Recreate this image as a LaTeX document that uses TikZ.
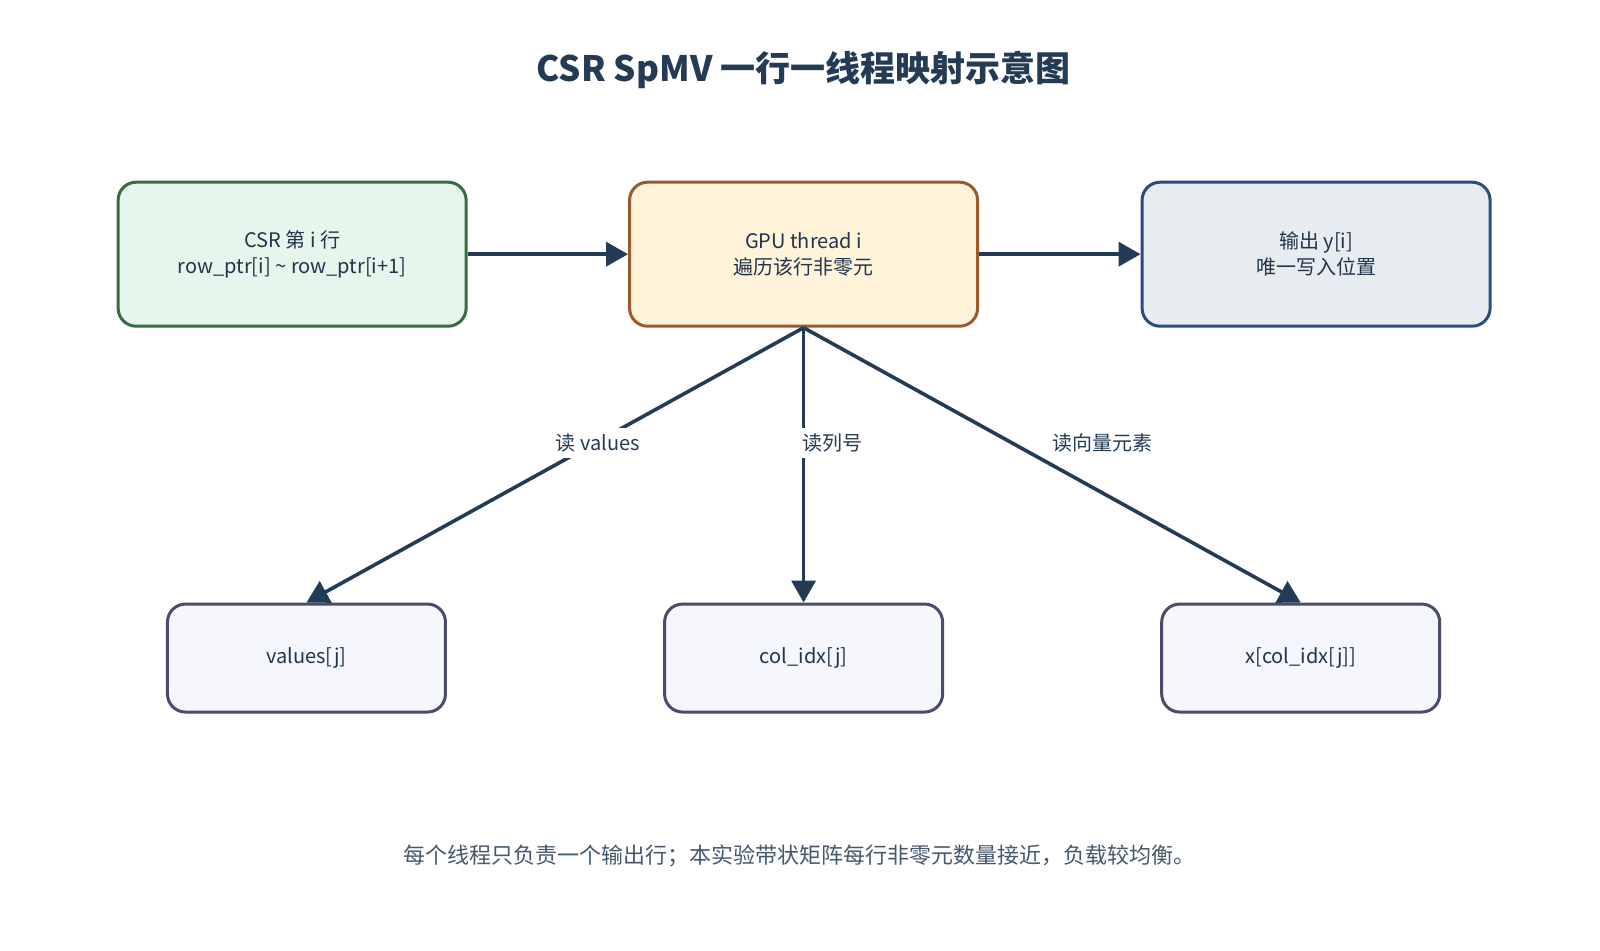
\documentclass[tikz,border=0pt]{standalone}
\usepackage{fontspec}
\setmainfont{Noto Sans CJK SC}
\usetikzlibrary{arrows.meta}
\definecolor{ink}{HTML}{243B55}
\definecolor{gb}{HTML}{3A6B42}\definecolor{gf}{HTML}{E7F6EC}
\definecolor{ob}{HTML}{9C5A2A}\definecolor{of}{HTML}{FFF3DA}
\definecolor{bb}{HTML}{2B4C7E}\definecolor{bf}{HTML}{E7ECF0}
\definecolor{kb}{HTML}{4A4C6A}\definecolor{kf}{HTML}{F5F7FD}
\begin{document}
\begin{tikzpicture}[x=0.5125pt,y=-0.5125pt,
 box/.style={draw,line width=1.5pt,rounded corners=9pt,align=center,font=\fontsize{10}{13}\selectfont,text=ink!90!black,inner sep=0pt},
 arr/.style={draw=ink,line width=1.8pt,-{Triangle[length=11pt,width=12pt]}},
 lab/.style={fill=white,inner sep=3pt,font=\fontsize{10}{12}\selectfont,text=ink}]
\useasboundingbox (0,0) rectangle (1561,927);
\fill[white] (0,0) rectangle (1561,927);
\node[font=\fontsize{17.5}{20}\selectfont\bfseries,text=ink] (title) at (784,68) {CSR SpMV 一行一线程映射示意图};
\node[box,draw=gb,fill=gf,minimum width=174pt,minimum height=72pt] (csr) at (285,248) {CSR 第 i 行\\row\_ptr[i] \textasciitilde{} row\_ptr[i+1]};
\node[box,draw=ob,fill=of,minimum width=174pt,minimum height=72pt] (gpu) at (784,248) {GPU thread i\\遍历该行非零元};
\node[box,draw=bb,fill=bf,minimum width=174pt,minimum height=72pt] (out) at (1284,248) {输出 y[i]\\唯一写入位置};
\node[box,draw=kb,fill=kf,minimum width=139pt,minimum height=54pt] (v) at (299,642) {values[j]};
\node[box,draw=kb,fill=kf,minimum width=139pt,minimum height=54pt] (c) at (784,642) {col\_idx[j]};
\node[box,draw=kb,fill=kf,minimum width=139pt,minimum height=54pt] (xx) at (1269,642) {x[col\_idx[j]]};
\draw[arr] (csr) -- (gpu);
\draw[arr] (gpu) -- (out);
\draw[arr] (gpu.south) -- (v.north);
\draw[arr] (gpu.south) -- (c.north);
\draw[arr] (gpu.south) -- (xx.north);
\node[lab] (l1) at (583,432) {读 values};
\node[lab] (l2) at (812,432) {读列号};
\node[lab] (l3) at (1076,432) {读向量元素};
\node[font=\fontsize{11}{12}\selectfont,text=ink!85] (foot) at (780,835) {每个线程只负责一个输出行；本实验带状矩阵每行非零元数量接近，负载较均衡。};
\end{tikzpicture}
\end{document}
